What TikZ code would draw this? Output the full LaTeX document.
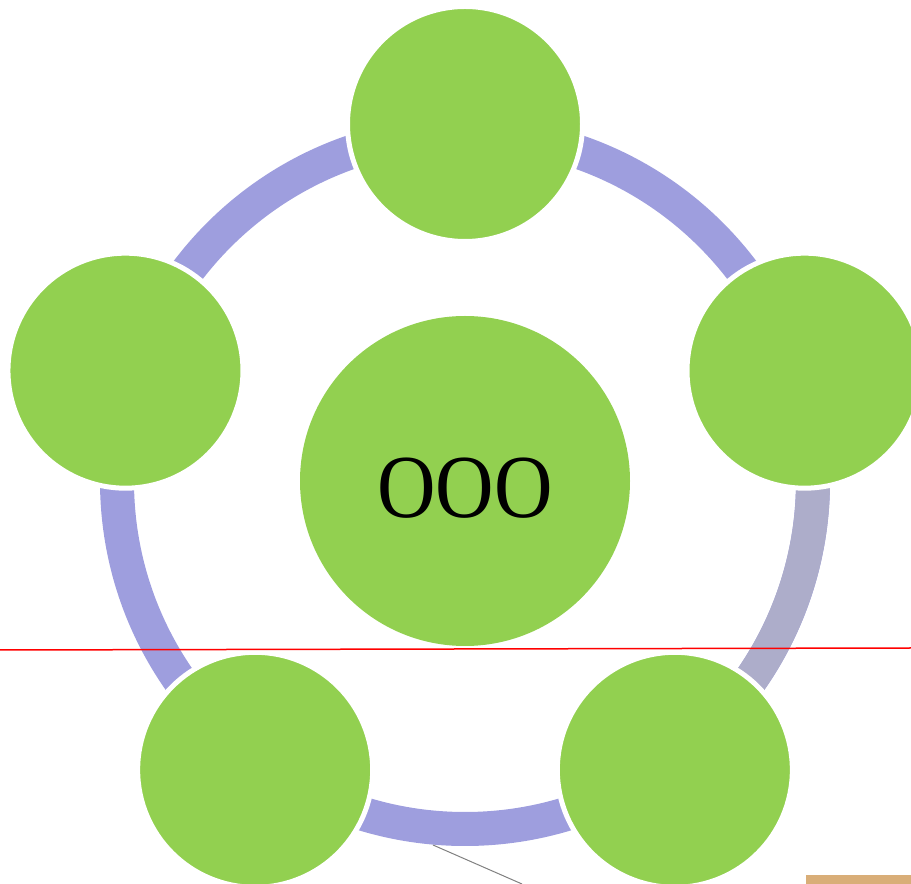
\documentclass[tikz,border=0pt]{standalone}
\usepackage{fontspec}
\setmainfont{Liberation Serif}
\usetikzlibrary{calc}
\definecolor{leafgreen}{HTML}{92D050}
\definecolor{ringblue}{HTML}{9E9EDE}
\definecolor{ringgray}{HTML}{ADADCA}
\definecolor{tanbar}{HTML}{D9AE78}
\tikzset{
  outerball/.style={circle, fill=leafgreen, draw=white, line width=5pt, inner sep=0pt, minimum size=235pt},
  centerball/.style={circle, fill=leafgreen, inner sep=0pt, minimum size=330pt},
  ringband/.style={line width=34pt, line cap=butt},
}
\begin{document}
\begin{tikzpicture}[x=1pt,y=1pt]
\useasboundingbox (0,0) rectangle (911,884);
\coordinate (c) at (465,403);
% ring
\draw[ringband, ringblue] (c) circle (348pt);
\draw[ringband, ringgray] ($(c)+(18:348pt)$) arc[start angle=18, end angle=-54, radius=348pt];
% thin gray line and tan bar
\coordinate (g1) at (433,39);
\coordinate (g2) at (522,0);
\draw[gray, line width=1pt] (g1) -- (g2);
\fill[tanbar] (806,0) rectangle (911,9);
% circles
\node[outerball] (top) at ($(c)+(90:357pt)$) {};
\node[outerball] (right) at ($(c)+(18:357pt)$) {};
\node[outerball] (bright) at ($(c)+(-54:357pt)$) {};
\node[outerball] (bleft) at ($(c)+(-126:357pt)$) {};
\node[outerball] (left) at ($(c)+(162:357pt)$) {};
\node[centerball] (mid) at (465,403) {};
\node (label) at (465,396) {\fontsize{90}{90}\selectfont\scalebox{0.9}[1]{OOO}};
% red line
\coordinate (r1) at (0,234);
\coordinate (r2) at (911,236);
\draw[red, line width=1.5pt] (r1) -- (r2);
\end{tikzpicture}
\end{document}
